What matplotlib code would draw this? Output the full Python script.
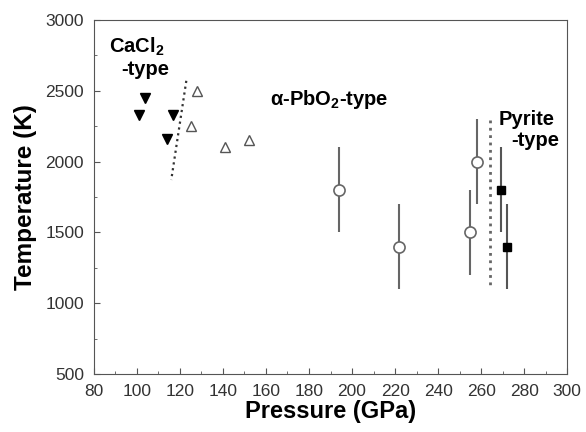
import matplotlib
matplotlib.use('Agg')
import matplotlib.pyplot as plt
from matplotlib.ticker import MultipleLocator

plt.rcParams['font.family'] = ['Liberation Sans', 'DejaVu Sans']
plt.rcParams['mathtext.fontset'] = 'custom'
plt.rcParams['mathtext.rm'] = 'Liberation Sans:bold'
plt.rcParams['mathtext.bf'] = 'Liberation Sans:bold'
plt.rcParams['mathtext.default'] = 'bf'

# CaCl2-type (filled down triangles)
cacl_p = [104, 101, 117, 114]
cacl_t = [2450, 2330, 2330, 2160]
# alpha-PbO2-type (open up triangles)
pbo_p = [128, 125, 141, 152]
pbo_t = [2500, 2250, 2100, 2150]
# alpha-PbO2-type with error bars (open circles)
circ_p = [194, 222, 255, 258]
circ_t = [1800, 1400, 1500, 2000]
circ_err = [300, 300, 300, 300]
# Pyrite-type (filled squares)
pyr_p = [269, 272]
pyr_t = [1800, 1400]
pyr_err = [300, 300]
# phase boundaries
bound1_p = [123, 116]
bound1_t = [2570, 1870]
bound2_p = [264, 264]
bound2_t = [2290, 1110]

fig = plt.figure(figsize=(5.86, 4.32), dpi=100)
ax = fig.add_axes([0.160, 0.134, 0.808, 0.820])

ax.plot(bound1_p, bound1_t, linestyle=':', color='#333333', linewidth=1.6)
ax.plot(bound2_p, bound2_t, linestyle=':', color='#666666', linewidth=2.0)

ax.errorbar(circ_p, circ_t, yerr=circ_err, fmt='o', markersize=8,
            markerfacecolor='white', markeredgecolor='#666666', markeredgewidth=1.2,
            ecolor='#666666', elinewidth=1.5, capsize=0)
ax.errorbar(pyr_p, pyr_t, yerr=pyr_err, fmt='s', markersize=6,
            markerfacecolor='black', markeredgecolor='black',
            ecolor='#555555', elinewidth=1.5, capsize=0)
ax.plot(cacl_p, cacl_t, 'v', markersize=7, color='black', linestyle='None')
ax.plot(pbo_p, pbo_t, '^', markersize=7, markerfacecolor='white',
        markeredgecolor='#555555', markeredgewidth=1.0, linestyle='None')

ax.text(87, 2810, 'CaCl$_2$', fontsize=14.5, fontweight='bold', va='center')
ax.text(93, 2647, '-type', fontsize=14.5, fontweight='bold', va='center')
ax.text(162, 2435, '\u03b1-PbO$_2$-type', fontsize=14.5, fontweight='bold', va='center')
ax.text(268, 2300, 'Pyrite', fontsize=14.5, fontweight='bold', va='center')
ax.text(274, 2150, '-type', fontsize=14.5, fontweight='bold', va='center')

ax.set_xlim(80, 300)
ax.set_ylim(500, 3000)
ax.xaxis.set_major_locator(MultipleLocator(20))
ax.xaxis.set_minor_locator(MultipleLocator(10))
ax.yaxis.set_major_locator(MultipleLocator(500))
ax.yaxis.set_minor_locator(MultipleLocator(250))
ax.tick_params(which='both', direction='in', color='#555555', labelsize=12.5, labelcolor='#333333')
ax.tick_params(which='major', length=4, pad=7)
ax.tick_params(which='minor', length=2)
for s in ax.spines.values():
    s.set_color('#555555')

ax.set_xlabel('Pressure (GPa)', fontsize=17, fontweight='bold', labelpad=1)
ax.set_ylabel('Temperature (K)', fontsize=17.5, fontweight='bold', labelpad=6)

plt.savefig('out.png', dpi=100)
